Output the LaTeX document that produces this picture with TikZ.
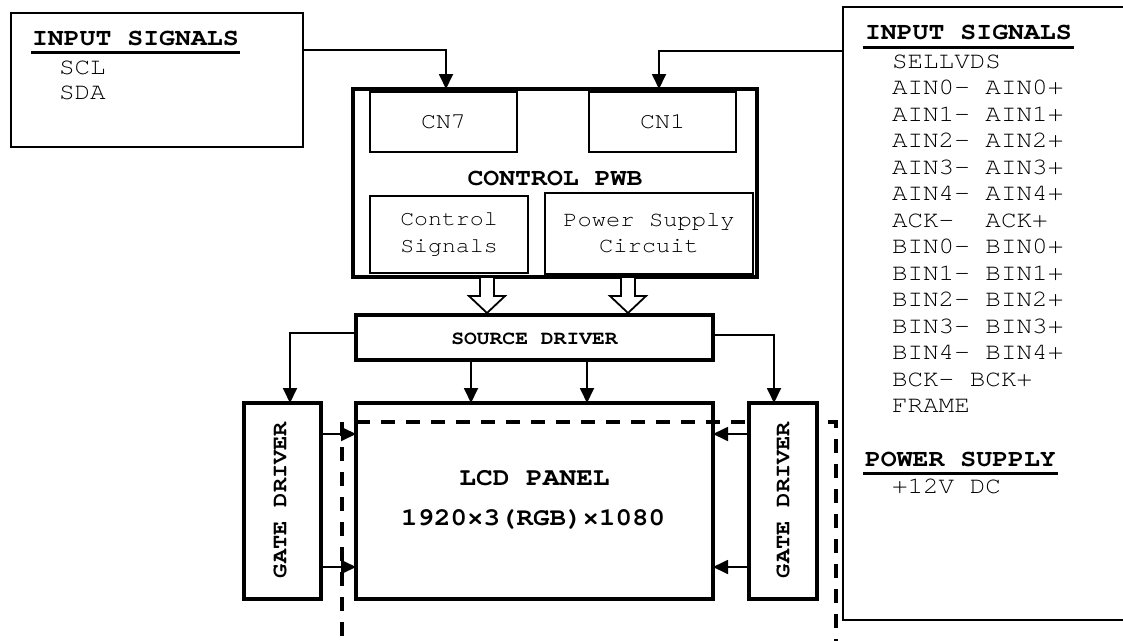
\documentclass[tikz,border=0pt]{standalone}
\usepackage{fontspec}
\setmonofont{TeX Gyre Cursor}
\usepackage{graphicx}
\usetikzlibrary{arrows.meta,calc}
\newcommand\hsc[1]{\scalebox{1.1}[1]{#1}}
\tikzset{
  every node/.style={font=\ttfamily, inner sep=0pt, outer sep=0pt},
  inbox/.style={draw, line width=1.5pt, rectangle},
  heavybox/.style={draw, line width=4pt, rectangle, fill=white},
  subbox/.style={draw, line width=2pt, rectangle, align=center},
  conn/.style={line width=1.8pt, -{Triangle[length=15pt,width=14pt]}},
  hollow/.style={draw, line width=1.8pt, fill=white},
  paneldash/.style={line width=4pt, dash pattern=on 14pt off 11pt},
  uline/.style={line width=3pt},
  fz/.style={font=\ttfamily\fontsize{#1}{#1}\selectfont},
  fzb/.style={font=\ttfamily\bfseries\fontsize{#1}{#1}\selectfont},
}
\begin{document}
\begin{tikzpicture}[x=1pt,y=-1pt]
\useasboundingbox[fill=white] (0,0) rectangle (1123,640);

% input boxes
\node[inbox, minimum width=292pt, minimum height=134pt] (inL) at (157,80) {};
\node[inbox, line width=2pt, minimum width=300pt, minimum height=613pt] (inR) at (993,313.5) {};

% left box texts
\node[fzb=24.1, anchor=base west] (hL) at (32,45) {\hsc{INPUT SIGNALS}};
\draw[uline] ([xshift=-1pt,yshift=-7pt]hL.base west) -- ([xshift=1pt,yshift=-7pt]hL.base east);
\node[fz=23.6, anchor=base west] (scl) at (59,74.5) {\hsc{SCL}};
\node[fz=23.6, anchor=base west] (sda) at (59,99.5) {\hsc{SDA}};

% right box texts
\node[fzb=24.1, anchor=base west] (hR) at (865,39) {\hsc{INPUT SIGNALS}};
\draw[uline] ([xshift=-2pt,yshift=-8pt]hR.base west) -- ([xshift=2pt,yshift=-8pt]hR.base east);
\foreach \t [count=\k from 0] in {SELLVDS, AIN0- AIN0+, AIN1- AIN1+, AIN2- AIN2+, AIN3- AIN3+, AIN4- AIN4+, ACK-~~ACK+, BIN0- BIN0+, BIN1- BIN1+, BIN2- BIN2+, BIN3- BIN3+, BIN4- BIN4+, BCK- BCK+, FRAME}
  \node[fz=23.6, anchor=base west] (sig\k) at (892,{68.5+26.46*\k}) {\hsc{\t}};
\node[fzb=24.1, anchor=base west] (hP) at (865,466) {\hsc{POWER SUPPLY}};
\draw[uline] ([xshift=-2pt,yshift=-7.5pt]hP.base west) -- ([xshift=2pt,yshift=-7.5pt]hP.base east);
\node[fz=23.6, anchor=base west] (v12) at (892,493.5) {\hsc{+12V DC}};

% control PWB
\node[heavybox, minimum width=404pt, minimum height=188pt] (pwb) at (555,183) {};
\node[subbox, fz=22.7, minimum width=147pt, minimum height=60pt] (cn7) at (443.5,122) {\hsc{CN7}};
\node[subbox, fz=22.7, minimum width=147pt, minimum height=60pt] (cn1) at (662.5,122) {\hsc{CN1}};
\node[fzb=24.1] (pwbl) at (555,178) {\hsc{CONTROL PWB}};
\node[subbox, font=\ttfamily\fontsize{21.1}{27}\selectfont, minimum width=158pt, minimum height=77pt] (ctl) at (449,234.5) {\hsc{Control}\\\hsc{Signals}};
\node[subbox, font=\ttfamily\fontsize{21.6}{26}\selectfont, minimum width=208pt, minimum height=81pt] (psc) at (649,233.5) {\hsc{Power Supply}\\\hsc{Circuit}};

% source driver
\node[heavybox, minimum width=357pt, minimum height=45pt] (sd) at (534.5,337.5) {};
\node[fzb=19.4] (sdl) at (534.5,339) {\hsc{SOURCE DRIVER}};

% hollow arrows
\foreach \hx in {487,628}
  \draw[hollow] (\hx-7,277) -- (\hx+7,277) -- (\hx+7,296) -- (\hx+18,296) -- (\hx,313) -- (\hx-18,296) -- (\hx-7,296) -- cycle;

% gate drivers and panel
\node[heavybox, minimum width=77pt, minimum height=196pt] (gdL) at (282.5,501) {};
\node[fzb=21.5, rotate=90] (gdLl) at (280,500) {\hsc{GATE DRIVER}};
\node[heavybox, minimum width=68pt, minimum height=196pt] (gdR) at (783,501) {};
\node[fzb=21.5, rotate=90] (gdRl) at (783,500) {\hsc{GATE DRIVER}};
\node[heavybox, minimum width=357pt, minimum height=196pt] (lcd) at (534.5,501) {};
\node[fzb=25.3, anchor=base] (lcdl) at (534.5,485.5) {\hsc{LCD PANEL}};
\node[fzb=25, anchor=base] (res) at (533,525.5) {\hsc{1920×3(RGB)×1080}};

% connectors
\draw[conn] ([yshift=-37pt]inL.north east) -| ([xshift=2.5pt]cn7.north |- pwb.north);
\draw[conn] ([yshift=-44pt]inR.north west) -| ([xshift=-3.5pt]cn1.north |- pwb.north);
\draw[conn] ([yshift=4.5pt]sd.west) -| ([xshift=7.5pt]gdL.north);
\draw[conn] ([yshift=2.5pt]sd.east) -| ([xshift=-9pt]gdR.north);
\draw[conn] ([xshift=-63.5pt]sd.south) -- ([xshift=-63.5pt]lcd.north);
\draw[conn] ([xshift=52.5pt]sd.south) -- ([xshift=52.5pt]lcd.north);
\draw[conn] ([yshift=67pt]gdL.east) -- ([yshift=67pt]lcd.west);
\draw[conn] ([yshift=-66pt]gdL.east) -- ([yshift=-66pt]lcd.west);
\draw[conn] ([yshift=67pt]gdR.west) -- ([yshift=67pt]lcd.east);
\draw[conn] ([yshift=-66pt]gdR.west) -- ([yshift=-66pt]lcd.east);

% dashed outline
\draw[paneldash] (342,422) -- (342,650);
\draw[paneldash] (356,422) -- (749,422);
\draw[paneldash] (828,422) -- (836,422) -- (836,650);
\end{tikzpicture}
\end{document}
